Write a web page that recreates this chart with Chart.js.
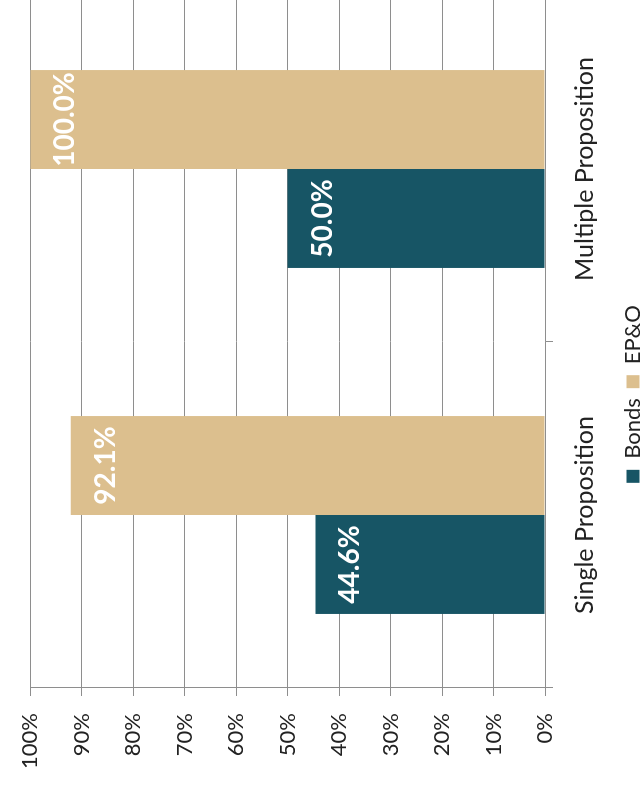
<!DOCTYPE html>
<html>
<head>
<meta charset="utf-8">
<script src="https://cdn.jsdelivr.net/npm/chart.js@4.4.1/dist/chart.umd.min.js"></script>
<style>
    html, body { margin: 0; padding: 0; background: #fff; overflow: hidden; }
    body { width: 644px; height: 785px; position: relative; }
    /* the scanned chart is turned a quarter to the left */
    #wrap {
        position: absolute;
        left: 0;
        top: 792px;
        width: 800px;
        height: 660px;
        transform-origin: 0 0;
        transform: rotate(-90deg);
    }
</style>
</head>
<body>
<div id="wrap"><canvas id="chart"></canvas></div>
<script>
const categories = ['Single Proposition', 'Multiple Proposition'];
const bondsValues = [44.6, 50.0];
const epoValues = [92.1, 100.0];
const valueTicks = [0, 10, 20, 30, 40, 50, 60, 70, 80, 90, 100];

const FONT = 'Lato, Carlito, Calibri, sans-serif';
const GRID = '#8e8e8e';

// White value labels inside the end of each bar
const barLabels = {
    id: 'barLabels',
    afterDatasetsDraw(chart) {
        const ctx = chart.ctx;
        ctx.save();
        ctx.font = 'bold 28px ' + FONT;
        ctx.fillStyle = '#ffffff';
        ctx.textAlign = 'center';
        ctx.textBaseline = 'alphabetic';
        chart.data.datasets.forEach((dataset, i) => {
            chart.getDatasetMeta(i).data.forEach((bar, j) => {
                ctx.fillText(dataset.data[j].toFixed(1) + '%', bar.x, bar.y + 44);
            });
        });
        ctx.restore();
    }
};

new Chart(document.getElementById('chart'), {
    type: 'bar',
    data: {
        labels: categories,
        datasets: [
            {
                label: 'Bonds',
                data: bondsValues,
                backgroundColor: '#175565',
                categoryPercentage: 0.572,
                barPercentage: 1.0
            },
            {
                label: 'EP&O',
                data: epoValues,
                backgroundColor: '#dcbf8e',
                categoryPercentage: 0.572,
                barPercentage: 1.0
            }
        ]
    },
    options: {
        responsive: true,
        maintainAspectRatio: false,
        animation: false,
        layout: { padding: { top: 27, right: 4, bottom: 6, left: 0 } },
        plugins: {
            tooltip: { enabled: false },
            legend: {
                position: 'bottom',
                labels: {
                    boxWidth: 13,
                    boxHeight: 13,
                    padding: 10,
                    color: '#222',
                    font: { family: FONT, size: 22 }
                }
            }
        },
        scales: {
            x: {
                offset: true,
                grid: {
                    offset: true,
                    drawOnChartArea: false,
                    drawTicks: true,
                    tickLength: 8,
                    color: GRID
                },
                border: { display: true, color: GRID },
                ticks: {
                    color: '#222',
                    padding: 17,
                    maxRotation: 0,
                    font: { family: FONT, size: 25 }
                },
                afterFit(scale) { scale.height = 67; }
            },
            y: {
                min: 0,
                max: 100,
                afterBuildTicks(scale) {
                    scale.ticks = valueTicks.map(v => ({ value: v }));
                },
                grid: { color: GRID, tickLength: 8, lineWidth: 1 },
                border: { display: true, color: GRID },
                ticks: {
                    color: '#222',
                    padding: 17,
                    font: { family: FONT, size: 22 },
                    callback: v => v + '%'
                },
                afterFit(scale) { scale.width = 104; }
            }
        }
    },
    plugins: [barLabels]
});
</script>
</body>
</html>
